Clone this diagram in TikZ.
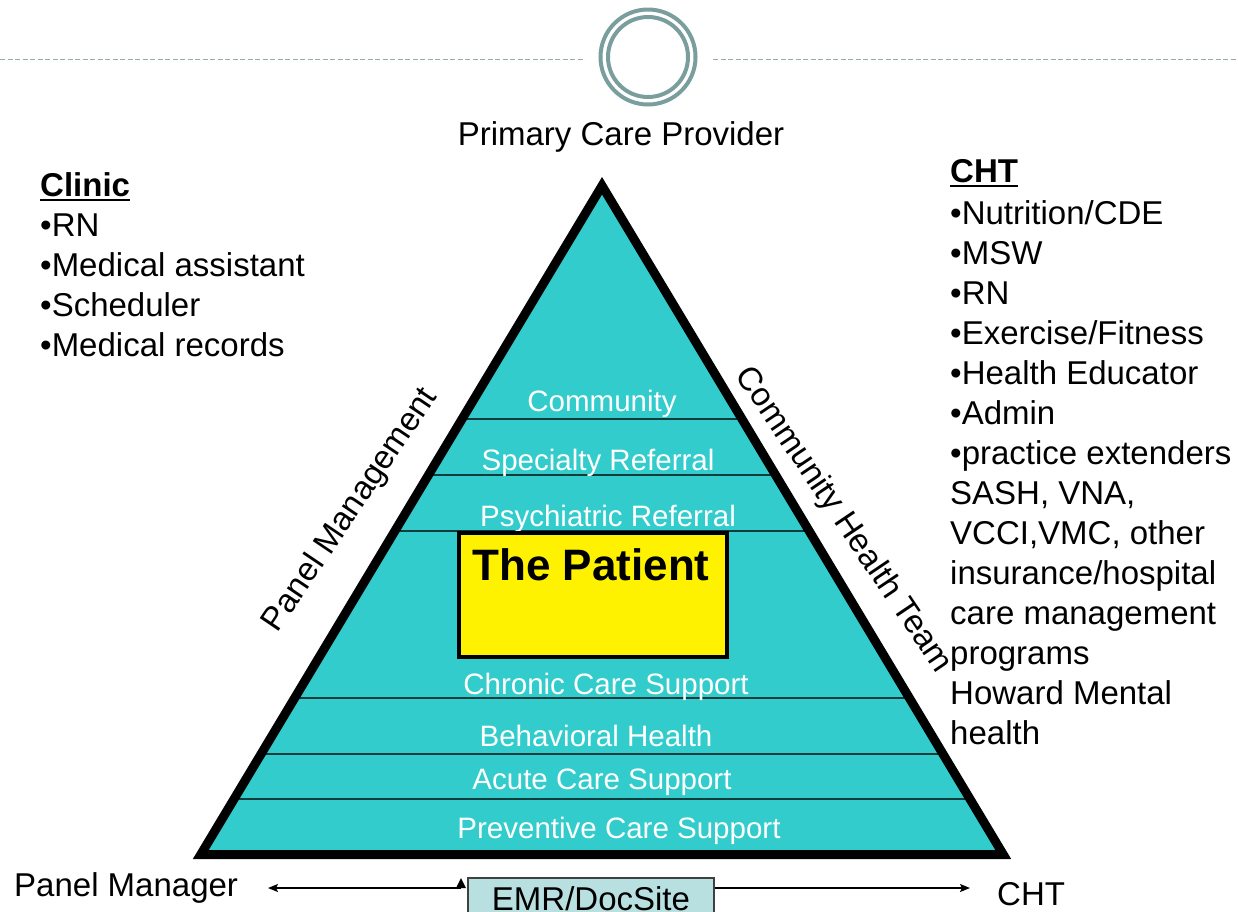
\documentclass[tikz,border=0pt]{standalone}
\usepackage{fontspec}
\setmainfont{Liberation Sans}
\usetikzlibrary{arrows.meta,calc}
\definecolor{tealfill}{HTML}{33CCCC}
\definecolor{ringc}{HTML}{7A9E9E}
\definecolor{dashc}{HTML}{94AAAB}
\definecolor{bandl}{HTML}{123C3C}
\definecolor{emrfill}{HTML}{B9E0E0}
\begin{document}
\begin{tikzpicture}[x=1pt,y=-1pt,
  big/.style={font=\fontsize{33}{40}\selectfont, inner sep=0pt},
  band/.style={font=\fontsize{29.5}{35}\selectfont, text=white, inner sep=0pt, anchor=base},
  listitem/.style={big, anchor=base west},
  bandline/.style={draw=bandl, line width=1.5pt},
  ringstyle/.style={circle, draw=ringc, line width=4pt, inner sep=0pt},
  hdash/.style={draw=dashc, line width=1.5pt, dash pattern=on 5pt off 2.5pt},
  arrowline/.style={line width=1.5pt, -{Stealth[length=10pt,width=8pt,inset=2pt]}},
  uline/.style={line width=2.5pt}]
\useasboundingbox (0,0) rectangle (1238,911);
\clip (0,0) rectangle (1238,911);

% header rule and rings
\node[ringstyle, minimum size=95pt] (ringout) at (648,57) {};
\node[ringstyle, minimum size=80pt] (ringin) at (648,57) {};
\coordinate (hl0) at (0,59.5);
\coordinate (hr1) at (1238,59.5);
\draw[hdash] (hl0) -- (585,59.5);
\draw[hdash] (713,59.5) -- (hr1);

% pyramid
\coordinate (A) at (602,185.75);
\coordinate (L) at (200.75,854.5);
\coordinate (R) at (1003.25,854.5);
\fill[tealfill] (A) -- (L) -- (R) -- cycle;
\foreach \t in {0.3488,0.4325,0.5163,0.7660,0.8497,0.9170}
  \draw[bandline] ($(A)!\t!(L)$) -- ($(A)!\t!(R)$);

\node[band] (community) at (602,411) {Community};
\node[band] (specialty) at (598,470) {Specialty Referral};
\node[band] (psych) at (608,526) {Psychiatric Referral};
\node[band] (chronic) at (606,694) {Chronic Care Support};
\node[band] (behav) at (596,746) {Behavioral Health};
\node[band] (acute) at (602,789) {Acute Care Support};
\node[band] (prevent) at (619,838) {Preventive Care Support};

\draw[line width=9pt, line join=miter] (A) -- (L) -- (R) -- cycle;

% the patient
\node[draw, line width=3.5pt, fill=yellow, minimum width=268pt, minimum height=124pt,
      anchor=north west, inner sep=0pt] (patient) at (457,531) {};
\node[anchor=base, inner sep=0pt, font=\bfseries\fontsize{44}{50}\selectfont] (patienttxt) at (591,580) {The Patient};

% side labels
\node[big, anchor=base] (pcp) at (621,145) {Primary Care Provider};
\node[big, anchor=base, rotate=56] (panelmgmt) at (358,515) {Panel Management};
\node[big, anchor=base, rotate=-56] (cht-side) at (836,525) {Community Health Team};

% clinic list
\node[listitem] (clinic) at (40,196) {\bfseries Clinic};
\draw[uline] ($(clinic.south west)+(0,3.5)$) -- ($(clinic.south east)+(0,3.5)$);
\node[listitem] (c1) at (40,236) {•RN};
\node[listitem] (c2) at (40,276) {•Medical assistant};
\node[listitem] (c3) at (40,316) {•Scheduler};
\node[listitem] (c4) at (40,356) {•Medical records};

% CHT list
\node[listitem] (chthead) at (950,182) {\bfseries CHT};
\draw[uline] ($(chthead.south west)+(0,3.5)$) -- ($(chthead.south east)+(0,3.5)$);
\node[listitem] (h1) at (950,224) {•Nutrition/CDE};
\node[listitem] (h2) at (950,264) {•MSW};
\node[listitem] (h3) at (950,304) {•RN};
\node[listitem] (h4) at (950,344) {•Exercise/Fitness};
\node[listitem] (h5) at (950,384) {•Health Educator};
\node[listitem] (h6) at (950,424) {•Admin};
\node[listitem] (h7) at (950,464) {•practice extenders};
\node[listitem] (h8) at (950,504) {SASH, VNA,};
\node[listitem] (h9) at (950,544) {VCCI,VMC, other};
\node[listitem] (h10) at (950,584) {insurance/hospital};
\node[listitem] (h11) at (950,624) {care management};
\node[listitem] (h12) at (950,664) {programs};
\node[listitem] (h13) at (950,704) {Howard Mental};
\node[listitem] (h14) at (950,744) {health};

% bottom row
\node[listitem] (pmgr) at (14,896) {Panel Manager};
\node[listitem] (chtbottom) at (997,905) {CHT};
\coordinate (pmend) at (268,888);
\coordinate (chtend) at (970,888);
\coordinate (lstart) at (461,888);
\node[draw=black!75, fill=emrfill, line width=1.5pt, minimum width=246pt, minimum height=40pt,
      anchor=north, inner sep=0pt] (emr) at (591,877) {};
\draw[arrowline] (lstart) -- (pmend);
\draw[arrowline] (emr.east |- chtend) -- (chtend);
\fill (456,888) -- (466,888) -- (461,878) -- cycle;
\node[big, anchor=base] (emrtxt) at (591,910) {EMR/DocSite};
\end{tikzpicture}
\end{document}
